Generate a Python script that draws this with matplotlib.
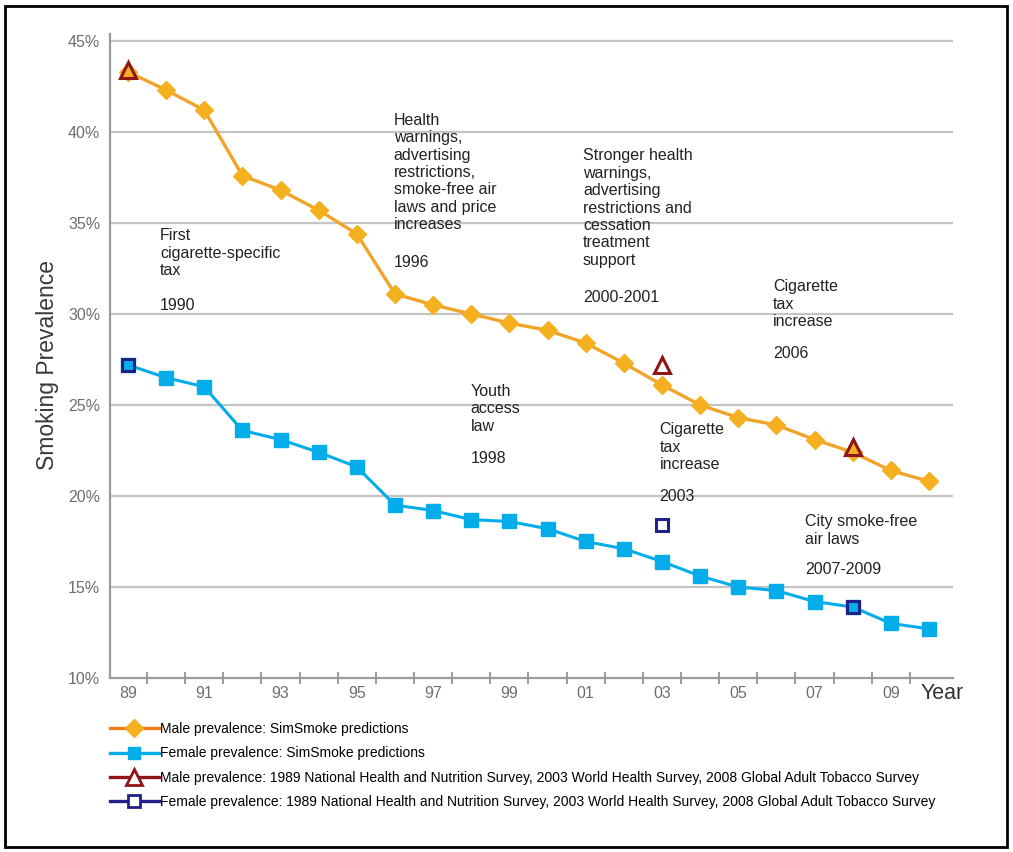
import matplotlib
matplotlib.use("Agg")
import matplotlib.pyplot as plt
from matplotlib.lines import Line2D
from matplotlib.patches import Rectangle

plt.rcParams['font.family'] = ['Liberation Sans', 'DejaVu Sans']

years = list(range(1989, 2011))
male_sim = [43.3, 42.3, 41.2, 37.6, 36.8, 35.7, 34.4, 31.1, 30.5, 30.0, 29.5,
            29.1, 28.4, 27.3, 26.1, 25.0, 24.3, 23.9, 23.1, 22.4, 21.4, 20.8]
female_sim = [27.2, 26.5, 26.0, 23.6, 23.1, 22.4, 21.6, 19.5, 19.2, 18.7, 18.6,
              18.2, 17.5, 17.1, 16.4, 15.6, 15.0, 14.8, 14.2, 13.9, 13.0, 12.7]
survey_years = [1989, 2003, 2008]
male_survey = [43.4, 27.2, 22.7]
female_survey = [27.2, 18.4, 13.9]
year_ticks = list(range(1989, 2010, 2))
year_labels = ['89', '91', '93', '95', '97', '99', '01', '03', '05', '07', '09']
y_ticks = [10, 15, 20, 25, 30, 35, 40, 45]
y_labels = ['10%', '15%', '20%', '25%', '30%', '35%', '40%', '45%']

annotations = [
    ("First\ncigarette-specific\ntax", "1990", 1989.84, 34.7, 30.85),
    ("Health\nwarnings,\nadvertising\nrestrictions,\nsmoke-free air\nlaws and price\nincreases", "1996", 1995.97, 41.05, 33.25),
    ("Stronger health\nwarnings,\nadvertising\nrestrictions and\ncessation\ntreatment\nsupport", "2000-2001", 2000.93, 39.1, 31.3),
    ("Cigarette\ntax\nincrease", "2006", 2005.91, 31.9, 28.25),
    ("Youth\naccess\nlaw", "1998", 1997.99, 26.15, 22.45),
    ("Cigarette\ntax\nincrease", "2003", 2002.94, 24.05, 20.4),
    ("City smoke-free\nair laws", "2007-2009", 2006.75, 19.0, 16.35),
]

ORANGE_LINE = '#F2A42A'
ORANGE_MK = '#F5B020'
CYAN = '#03ADEA'
DARKRED = '#8E1616'
NAVY = '#1E2288'
GRID = '#C4C4C4'
AXIS = '#9A9A9A'
TICKTXT = '#6E6E6E'

fig = plt.figure(figsize=(10.13, 8.52), dpi=100)
ax = fig.add_axes([110/1013, 1 - 678/852, (953-110)/1013, (678-34)/852])

ax.set_xlim(1988.53, 2010.63)
ax.set_ylim(10, 45.38)

for yv in y_ticks[1:]:
    ax.axhline(yv, color=GRID, lw=1.6, zorder=1)

ax.plot(years, male_sim, color=ORANGE_LINE, lw=2.4, marker='D', ms=9,
        mfc=ORANGE_MK, mec=ORANGE_MK, zorder=3)
ax.plot(years, female_sim, color=CYAN, lw=2.2, marker='s', ms=9.5,
        mfc=CYAN, mec=CYAN, zorder=3)
ax.plot(survey_years, male_survey, ls='none', marker='^', ms=11, mfc='none',
        mec=DARKRED, mew=2.2, zorder=4)
ax.plot(survey_years, female_survey, ls='none', marker='s', ms=9, mfc='none',
        mec=NAVY, mew=2.2, zorder=4)

for spine in ['top', 'right']:
    ax.spines[spine].set_visible(False)
for spine in ['left', 'bottom']:
    ax.spines[spine].set_color(AXIS)
    ax.spines[spine].set_linewidth(1.6)

ax.set_yticks(y_ticks)
ax.set_yticklabels(y_labels)
ax.set_xticks(year_ticks)
ax.set_xticklabels(year_labels)
ax.set_xticks([y + 0.5 for y in range(1989, 2010)], minor=True)
ax.tick_params(axis='y', length=0, pad=7, labelsize=11.5, labelcolor=TICKTXT)
ax.tick_params(axis='x', which='major', length=0, pad=6, labelsize=11.5,
               labelcolor=TICKTXT)
ax.tick_params(axis='x', which='minor', direction='inout', length=9,
               width=1.4, color=AXIS)

ax.set_ylabel("Smoking Prevalence", fontsize=16.5, color='#3A3A3A', va='center')
ax.yaxis.set_label_coords(-0.0747, 0.486)
ax.text(0.987, -0.024, "Year", transform=ax.transAxes, ha='center', va='center',
        fontsize=15.5, color='#333333')

for body, yr, x, ytop, yyr in annotations:
    ax.text(x, ytop, body, ha='left', va='top', fontsize=11.5, color='#222222',
            linespacing=1.2, zorder=2)
    ax.text(x, yyr, yr, ha='left', va='top', fontsize=11.5, color='#222222',
            zorder=2)

handles = [
    Line2D([], [], color='#F07F1A', lw=2.4, marker='D', ms=9, mfc=ORANGE_MK, mec=ORANGE_MK),
    Line2D([], [], color=CYAN, lw=2.4, marker='s', ms=9, mfc=CYAN, mec=CYAN),
    Line2D([], [], color=DARKRED, lw=2.4, marker='^', ms=11, mfc='white', mec=DARKRED, mew=2),
    Line2D([], [], color=NAVY, lw=2.4, marker='s', ms=9, mfc='white', mec=NAVY, mew=2),
]
labels = [
    "Male prevalence: SimSmoke predictions",
    "Female prevalence: SimSmoke predictions",
    "Male prevalence: 1989 National Health and Nutrition Survey, 2003 World Health Survey, 2008 Global Adult Tobacco Survey",
    "Female prevalence: 1989 National Health and Nutrition Survey, 2003 World Health Survey, 2008 Global Adult Tobacco Survey",
]
fig.legend(handles, labels, loc='upper left', bbox_to_anchor=(110/1013, 1 - 722/852),
           frameon=False, fontsize=10, handlelength=3.5, handletextpad=0.1,
           labelspacing=0.75, borderpad=0, borderaxespad=0)

fig.patches.append(Rectangle((5/1013, 5/852), 1002/1013, 841/852, transform=fig.transFigure,
                             fill=False, edgecolor='black', lw=2))

fig.savefig("out.png", dpi=100)
